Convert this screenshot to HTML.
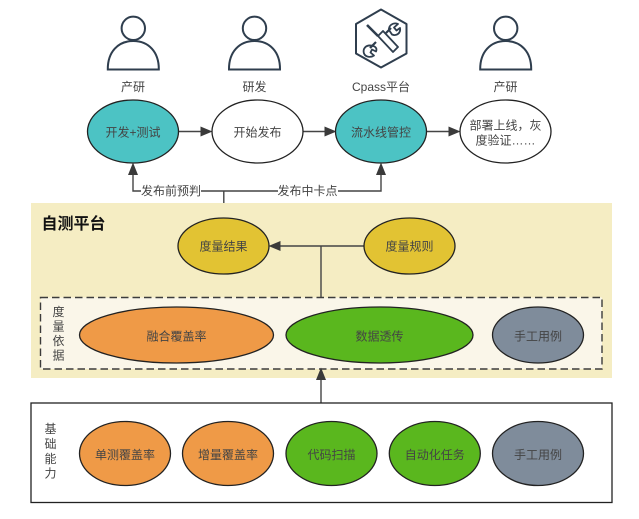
<!DOCTYPE html>
<html><head><meta charset="utf-8"><style>
html,body{margin:0;padding:0;background:#fff}
svg{display:block}
text{font-family:"Liberation Sans","Noto Sans CJK SC",sans-serif;font-size:12px;fill:#444;text-anchor:middle;dominant-baseline:central}
.e{stroke:#222;stroke-width:1.3}
.l{stroke:#444;stroke-width:1.4;fill:none}
.a{fill:#3a3a3a}
.p{fill:none;stroke:#2f3e4e;stroke-width:2}
</style></head><body>
<svg width="639" height="519" viewBox="0 0 639 519" xmlns="http://www.w3.org/2000/svg">
<rect width="639" height="519" fill="#fff"/>

<!-- people -->
<g class="p">
<circle cx="133.300" cy="28.300" r="11.700"/><path d="M107.800 69.500C107.600 52 118 41 133.300 41S159 52 158.800 69.500Z"/>
<circle cx="254.500" cy="28.300" r="11.700"/><path d="M229 69.500C228.800 52 239.200 41 254.500 41S280.200 52 280 69.500Z"/>
<circle cx="505.700" cy="28.300" r="11.700"/><path d="M480.200 69.500C480 52 490.400 41 505.700 41S531.400 52 531.200 69.500Z"/>
</g>
<!-- hexagon tool icon -->
<g fill="none" stroke="#2f3e4e" stroke-linejoin="round">
<path d="M381 9.500L406.500 24V53.500L381 67.500L356 53.500V24Z" stroke-width="2"/>
<path d="M367 25L378 36" stroke-width="2.600"/>
<path d="M378 36L393 52L398 47L383 31Z" stroke-width="1.800" fill="#fff"/>
<path d="M376 42L370 48" stroke-width="2.200"/>
<path d="M371 45.500C365.500 45 362.500 49 364 53.500C365.500 57 370.500 58 374 55.500L370.500 52.500L372 49.500L376 51.500C377.500 48 375 46 371 45.500Z" stroke-width="1.800"/>
<path d="M386 33L391 28" stroke-width="2.200"/>
<path d="M389 30C388.500 25.500 393 22 398 24L394 27.500L396.500 30.500L400 28C401 33 396.500 36.500 392 34.500Z" stroke-width="1.800"/>
</g>

<text x="133" y="87">产研</text>
<text x="254.500" y="87">研发</text>
<text x="381" y="87">Cpass平台</text>
<text x="505.500" y="87">产研</text>

<!-- top connectors -->
<path class="l" d="M178.500 131.500H203M303 131.500H326M426 131.500H451"/>
<path class="a" d="M212.500 131.500L200.500 126.500V136.500ZM336.500 131.500L324.500 126.500V136.500ZM460.500 131.500L448.500 126.500V136.500Z"/>
<path class="l" d="M133 172V191H381V172M223.800 191V218"/>
<path class="a" d="M133 162.500L128 175H138ZM381 162.500L376 175H386Z"/>
<rect x="141" y="184" width="60" height="14" fill="#fff"/>
<rect x="278" y="184" width="60" height="14" fill="#fff"/>
<text x="171" y="191">发布前预判</text>
<text x="307.500" y="191">发布中卡点</text>

<!-- top ellipses -->
<ellipse class="e" cx="133" cy="131.500" rx="45.500" ry="31.500" fill="#4cc3c4"/>
<ellipse class="e" cx="257.500" cy="131.500" rx="45.500" ry="31.500" fill="#fff"/>
<ellipse class="e" cx="381" cy="131.500" rx="45.500" ry="31.500" fill="#4cc3c4"/>
<ellipse class="e" cx="505.500" cy="131.500" rx="45.500" ry="31.500" fill="#fff"/>
<text x="133" y="132.500">开发+测试</text>
<text x="257.500" y="132.500">开始发布</text>
<text x="381" y="132.500">流水线管控</text>
<text x="505.500" y="125.500">部署上线，灰</text>
<text x="505.500" y="140.500">度验证……</text>

<!-- platform -->
<rect x="31" y="203" width="581" height="175" fill="#f5edc3"/>
<text x="73.500" y="224.500" style="font-size:16px;font-weight:bold;fill:#111">自测平台</text>
<rect x="40.500" y="297.500" width="561.500" height="71.500" fill="#faf6e9" stroke="#3c3c3c" stroke-width="1.400" stroke-dasharray="7.500 4"/>
<path class="l" d="M364 246H278M321 246V297"/>
<path class="a" d="M268.500 246L280.500 241V251Z"/>
<ellipse class="e" cx="223.500" cy="246" rx="45.500" ry="28" fill="#e2c333"/>
<ellipse class="e" cx="409.500" cy="246" rx="45.500" ry="28" fill="#e2c333"/>
<text x="223.500" y="246.500">度量结果</text>
<text x="409.500" y="246.500">度量规则</text>

<text x="58.500" y="312">度</text><text x="58.500" y="326.500">量</text><text x="58.500" y="341">依</text><text x="58.500" y="355.500">据</text>
<ellipse class="e" cx="176.500" cy="335" rx="97" ry="28" fill="#ef9a47"/>
<ellipse class="e" cx="379.500" cy="335" rx="93.500" ry="28" fill="#5ab71e"/>
<ellipse class="e" cx="538" cy="335" rx="45.500" ry="28" fill="#7f8c9b"/>
<text x="176.500" y="336.500">融合覆盖率</text>
<text x="379.500" y="336.500">数据透传</text>
<text x="538" y="336.500">手工用例</text>

<!-- base -->
<path class="l" d="M321 403V378"/>
<path class="a" d="M321 367.500L316 380H326Z"/>
<rect x="31" y="403" width="581" height="99.500" fill="#fff" stroke="#222" stroke-width="1.300"/>
<text x="50.500" y="429">基</text><text x="50.500" y="444">础</text><text x="50.500" y="459">能</text><text x="50.500" y="473.500">力</text>
<ellipse class="e" cx="125" cy="453.500" rx="45.500" ry="32" fill="#ef9a47"/>
<ellipse class="e" cx="228" cy="453.500" rx="45.500" ry="32" fill="#ef9a47"/>
<ellipse class="e" cx="331.500" cy="453.500" rx="45.500" ry="32" fill="#5ab71e"/>
<ellipse class="e" cx="434.800" cy="453.500" rx="45.500" ry="32" fill="#5ab71e"/>
<ellipse class="e" cx="538" cy="453.500" rx="45.500" ry="32" fill="#7f8c9b"/>
<text x="125" y="455">单测覆盖率</text>
<text x="228" y="455">增量覆盖率</text>
<text x="331.500" y="455">代码扫描</text>
<text x="434.800" y="455">自动化任务</text>
<text x="538" y="455">手工用例</text>
</svg>
</body></html>
